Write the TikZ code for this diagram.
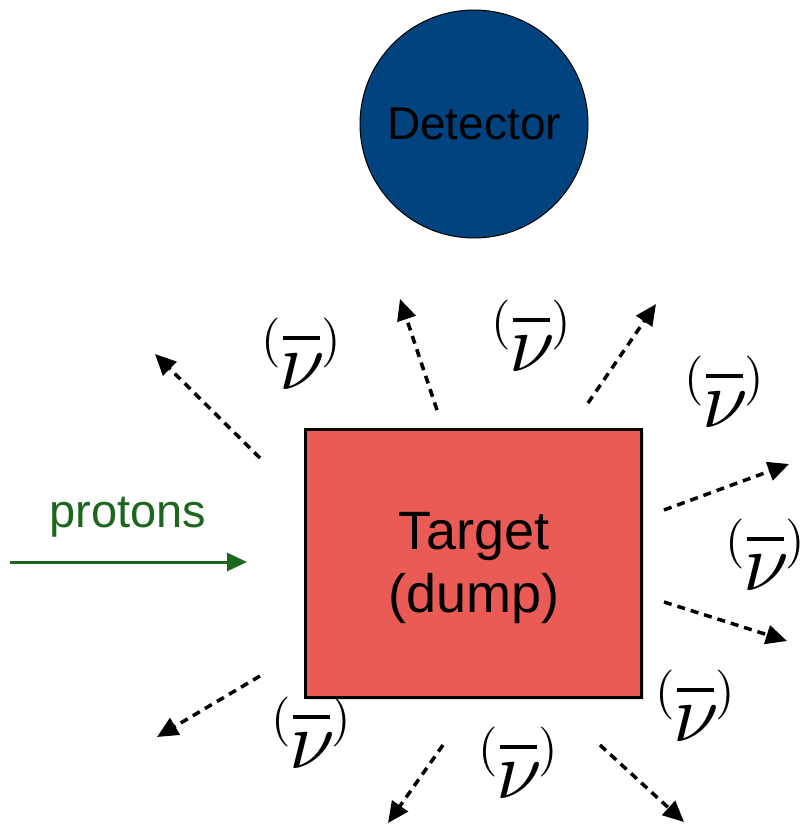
\documentclass[tikz,border=0pt]{standalone}
\usepackage{graphicx}
\usepackage{fontspec}
\setmainfont{Liberation Sans}
\usetikzlibrary{arrows.meta,shadows}
\definecolor{detblue}{HTML}{00437F}
\definecolor{tred}{HTML}{EB5B56}
\definecolor{pgreen}{HTML}{1D661D}
\newcommand\nubar{\vbox{\offinterlineskip\halign{\hfil##\hfil\cr
  \scalebox{5}{$($}\kern2pt\rule[15.5pt]{37pt}{4pt}\kern2pt\scalebox{5}{$)$}\cr
  \noalign{\kern-14pt}
  \kern2pt\scalebox{8.2}{$\nu$}\cr}}}
\tikzset{
  nuray/.style={line width=3.5pt, dash pattern=on 8pt off 6pt, -{Triangle[length=21pt,width=19pt]}},
  nulabel/.style={inner sep=0pt},
}
\begin{document}
\begin{tikzpicture}[x=1pt,y=-1pt]
\useasboundingbox (0,0) rectangle (805,827);
% detector
\node[circle, minimum size=228pt, fill=detblue, draw=black, line width=1pt,
      font=\fontsize{46}{46}\selectfont, text=black] (det) at (474,124) {Detector};
% target
\node[draw=black, line width=3pt, fill=tred, minimum width=336pt, minimum height=268pt,
      drop shadow={opacity=0.25, shadow xshift=2pt, shadow yshift=-3pt}] (target) at (473.5,563) {};
\node[align=center, font=\fontsize{54}{63}\selectfont] (tlabel) at (474,568) {Target\\(dump)};
% protons
\coordinate (pa) at (10,562);
\coordinate (pb) at (247,562);
\draw[pgreen, line width=3pt, -{Triangle[length=20pt,width=18pt]}] (pa) -- (pb);
\node[text=pgreen, font=\fontsize{47}{47}\selectfont, anchor=base] (prot) at (128,527) {protons};
% neutrino rays
\coordinate (a1s) at (260,458); \coordinate (a1e) at (155,354);
\coordinate (a2s) at (437,410); \coordinate (a2e) at (400,299);
\coordinate (a3s) at (588,403); \coordinate (a3e) at (656,304);
\coordinate (a4s) at (664,510); \coordinate (a4e) at (789,464);
\coordinate (a5s) at (664,602); \coordinate (a5e) at (787,641);
\coordinate (a6s) at (260,676); \coordinate (a6e) at (157,737);
\coordinate (a7s) at (443,745); \coordinate (a7e) at (388,823);
\coordinate (a8s) at (600,745); \coordinate (a8e) at (684,822);
\foreach \i in {1,...,8} \draw[nuray] (a\i s) -- (a\i e);
% neutrino labels
\node[nulabel] (n1) at (301,354) {\nubar};
\node[nulabel] (n2) at (531,336) {\nubar};
\node[nulabel] (n3) at (724,392) {\nubar};
\node[nulabel] (n4) at (765,555) {\nubar};
\node[nulabel] (n5) at (695,706) {\nubar};
\node[nulabel] (n6) at (311,733) {\nubar};
\node[nulabel] (n7) at (518,763) {\nubar};
\end{tikzpicture}
\end{document}
